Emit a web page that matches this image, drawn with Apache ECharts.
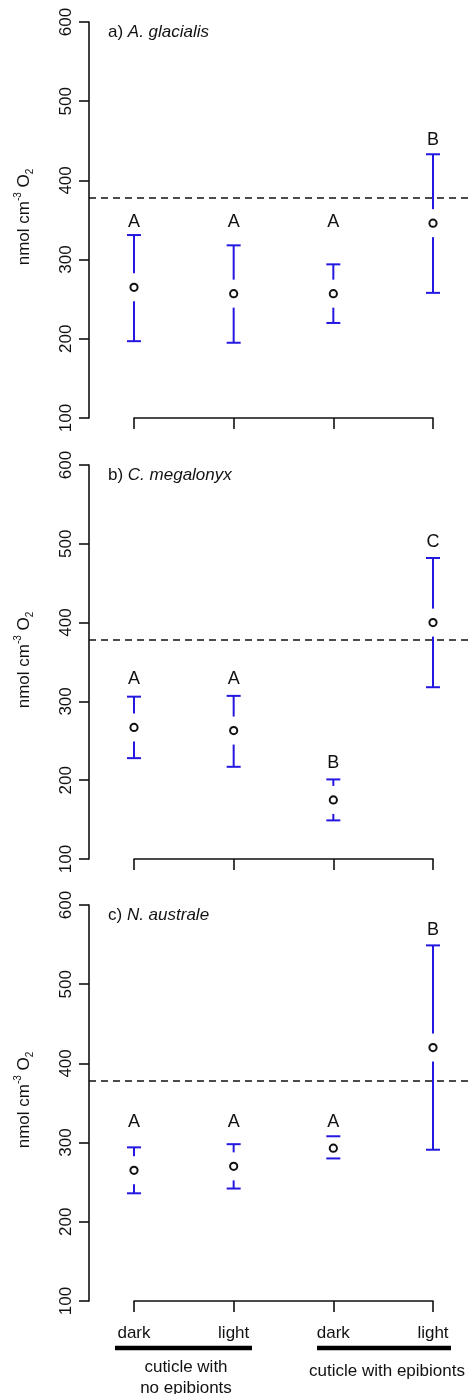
<!DOCTYPE html>
<html>
<head>
<meta charset="utf-8">
<script src="https://cdn.jsdelivr.net/npm/echarts@6/dist/echarts.min.js"></script>
<style>
  html, body { margin: 0; padding: 0; background: #fff; }
  #chart { width: 470px; height: 1394px; }
</style>
</head>
<body>
<div id="chart"></div>
<script>
// treatment per column
var conditions = ['dark', 'light', 'dark', 'light'];
var yTicks = [100, 200, 300, 400, 500, 600];
var refLevel = 378;

// a) A. glacialis
var aMean  = [265, 257, 257, 346];
var aLower = [197, 195, 220, 258];
var aUpper = [331, 318, 294, 433];
var aLetters = ['A', 'A', 'A', 'B'];
var aLetterY = [347, 347, 347, 451];

// b) C. megalonyx
var bMean  = [267, 263, 175, 400];
var bLower = [228, 217, 149, 318];
var bUpper = [306, 307, 201, 482];
var bLetters = ['A', 'A', 'B', 'C'];
var bLetterY = [329, 329, 222, 502];

// c) N. australe
var cMean  = [265, 270, 293, 420];
var cLower = [236, 242, 280, 291];
var cUpper = [294, 298, 308, 549];
var cLetters = ['A', 'A', 'A', 'B'];
var cLetterY = [326, 326, 326, 568];

var FONT = 'Liberation Sans, Arial, sans-serif';
var BLUE = '#2418e0';
var INK = '#111';

var panels = [
    {top: 22,  height: 396, tag: 'a) ', name: 'A. glacialis', mean: aMean, lower: aLower, upper: aUpper, letters: aLetters, letterY: aLetterY},
    {top: 465, height: 394, tag: 'b) ', name: 'C. megalonyx', mean: bMean, lower: bLower, upper: bUpper, letters: bLetters, letterY: bLetterY},
    {top: 905, height: 396, tag: 'c) ', name: 'N. australe', mean: cMean, lower: cLower, upper: cUpper, letters: cLetters, letterY: cLetterY}
];

var grids = [], xAxes = [], yAxes = [], series = [], graphics = [];

panels.forEach(function(p, i){
    var last = (i === panels.length - 1);
    // data grid (y axis sits on its left edge)
    grids.push({left: 89, width: 381, top: p.top, height: p.height});
    // grid carrying the R-style x axis between first and last column
    grids.push({left: 134, width: 299, top: p.top, height: p.height});

    xAxes.push({gridIndex: 2 * i, type: 'value', min: 0.5485, max: 4.3712, show: false});
    xAxes.push({
        gridIndex: 2 * i + 1, type: 'value', min: 1, max: 4, interval: 1,
        axisLine: {show: true, lineStyle: {color: INK, width: 1.6}},
        axisTick: {show: true, length: 11, lineStyle: {color: INK, width: 1.6}},
        splitLine: {show: false},
        axisLabel: {
            show: last, margin: 24, fontSize: 17, fontFamily: FONT, color: INK,
            formatter: function(v){ return conditions[v - 1] || ''; }
        }
    });

    yAxes.push({
        gridIndex: 2 * i, type: 'value', min: yTicks[0], max: yTicks[yTicks.length - 1], interval: 100,
        axisLine: {show: true, lineStyle: {color: INK, width: 1.6}},
        axisTick: {show: true, length: 10, lineStyle: {color: INK, width: 1.6}},
        splitLine: {show: false},
        axisLabel: {rotate: 90, margin: 14, fontSize: 17, fontFamily: FONT, color: INK}
    });
    yAxes.push({gridIndex: 2 * i + 1, type: 'value', min: 100, max: 600, show: false});

    var rows = p.mean.map(function(m, k){
        return [k + 1, p.lower[k], m, p.upper[k], p.letterY[k]];
    });

    series.push({
        type: 'custom',
        xAxisIndex: 2 * i, yAxisIndex: 2 * i,
        data: rows,
        clip: false,
        renderItem: function(params, api){
            var x = api.value(0);
            var lo = api.coord([x, api.value(1)]);
            var m = api.coord([x, api.value(2)]);
            var hi = api.coord([x, api.value(3)]);
            var lt = api.coord([x, api.value(4)]);
            var gap = 14, cap = 7;
            var bar = {stroke: BLUE, lineWidth: 2};
            var kids = [
                {type: 'line', shape: {x1: hi[0] - cap, y1: hi[1], x2: hi[0] + cap, y2: hi[1]}, style: bar},
                {type: 'line', shape: {x1: lo[0] - cap, y1: lo[1], x2: lo[0] + cap, y2: lo[1]}, style: bar}
            ];
            if (m[1] - gap > hi[1]) {
                kids.push({type: 'line', shape: {x1: hi[0], y1: hi[1], x2: m[0], y2: m[1] - gap}, style: bar});
            }
            if (m[1] + gap < lo[1]) {
                kids.push({type: 'line', shape: {x1: m[0], y1: m[1] + gap, x2: lo[0], y2: lo[1]}, style: bar});
            }
            kids.push({type: 'circle', shape: {cx: m[0], cy: m[1], r: 3.6},
                       style: {fill: 'none', stroke: INK, lineWidth: 2}});
            kids.push({type: 'text', x: lt[0], y: lt[1],
                       style: {text: p.letters[params.dataIndex], fill: INK, fontSize: 18, fontFamily: FONT,
                               align: 'center', verticalAlign: 'middle'}});
            return {type: 'group', children: kids};
        },
        markLine: {
            silent: true, symbol: 'none', animation: false,
            label: {show: false},
            lineStyle: {color: INK, type: [7, 5], width: 1.6},
            data: [{yAxis: refLevel}]
        }
    });

    // panel title
    graphics.push({
        type: 'text', left: 108, top: p.top + 2,
        style: {
            text: '{n|' + p.tag + '}{i|' + p.name + '}',
            rich: {
                n: {fontSize: 17, fontFamily: FONT, fill: INK},
                i: {fontSize: 17, fontFamily: FONT, fill: INK, fontStyle: 'italic'}
            }
        }
    });
    // y axis name
    graphics.push({
        type: 'text', x: 24, y: p.top + 195, rotation: Math.PI / 2,
        style: {
            text: '{t|nmol cm}{sup|-3}{t| O}{sub|2}',
            align: 'center', verticalAlign: 'middle',
            rich: {
                t: {fontSize: 17, fontFamily: FONT, fill: INK, lineHeight: 22},
                sup: {fontSize: 10, fontFamily: FONT, fill: INK, lineHeight: 12, verticalAlign: 'top'},
                sub: {fontSize: 10, fontFamily: FONT, fill: INK, lineHeight: 12, verticalAlign: 'bottom'}
            }
        }
    });
});

// group brackets under the last panel
graphics.push(
    {type: 'line', shape: {x1: 115, y1: 1348, x2: 252, y2: 1348}, style: {stroke: '#000', lineWidth: 4.5}},
    {type: 'line', shape: {x1: 317, y1: 1348, x2: 451, y2: 1348}, style: {stroke: '#000', lineWidth: 4.5}},
    {type: 'text', x: 186, y: 1367, style: {text: 'cuticle with', fontSize: 17, fontFamily: FONT, fill: INK, align: 'center', verticalAlign: 'middle'}},
    {type: 'text', x: 186, y: 1388, style: {text: 'no epibionts', fontSize: 17, fontFamily: FONT, fill: INK, align: 'center', verticalAlign: 'middle'}},
    {type: 'text', x: 387, y: 1371, style: {text: 'cuticle with epibionts', fontSize: 17, fontFamily: FONT, fill: INK, align: 'center', verticalAlign: 'middle'}}
);

var chart = echarts.init(document.getElementById('chart'));
chart.setOption({
    animation: false,
    backgroundColor: '#fff',
    grid: grids,
    xAxis: xAxes,
    yAxis: yAxes,
    series: series,
    graphic: graphics
});
</script>
</body>
</html>
